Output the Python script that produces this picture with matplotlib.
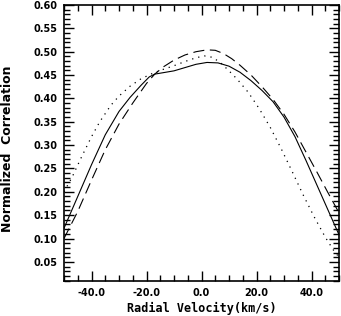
# Cross-correlation profiles, three curves
import numpy as np
import matplotlib
matplotlib.use("Agg")
import matplotlib.pyplot as plt
from matplotlib.ticker import MultipleLocator, FormatStrFormatter

# Solid curve
v_solid = [-50, -45, -40, -35, -30, -26, -22, -19, -17, -14, -10, -6, -2, 2, 6,
           10, 14, 18, 22, 26, 30, 34, 38, 42, 46, 50]
c_solid = [0.122, 0.19, 0.258, 0.322, 0.372, 0.402, 0.428, 0.446, 0.452, 0.455,
           0.459, 0.466, 0.473, 0.477, 0.476, 0.469, 0.456, 0.438, 0.417, 0.393,
           0.36, 0.318, 0.267, 0.214, 0.161, 0.108]

# Dashed curve
v_dash = [-50, -45, -40, -35, -30, -25, -20, -17, -14, -10, -6, -2, 2, 5, 8,
          11, 14, 18, 22, 26, 30, 34, 38, 42, 46, 50]
c_dash = [0.10, 0.158, 0.225, 0.29, 0.345, 0.39, 0.432, 0.452, 0.467, 0.482,
          0.493, 0.50, 0.504, 0.503, 0.496, 0.485, 0.471, 0.45, 0.425, 0.398,
          0.366, 0.328, 0.285, 0.242, 0.198, 0.155]

# Dotted curve
v_dot = [-50, -47, -44, -40, -37, -33, -30, -26, -22, -18, -14, -10, -6, -2, 1,
         4, 7, 10, 13, 17, 21, 25, 29, 33, 37, 41, 45, 48, 50]
c_dot = [0.20, 0.232, 0.27, 0.318, 0.35, 0.385, 0.405, 0.426, 0.442, 0.453,
         0.462, 0.47, 0.479, 0.487, 0.491, 0.488, 0.476, 0.459, 0.441, 0.413,
         0.378, 0.338, 0.292, 0.243, 0.193, 0.146, 0.103, 0.075, 0.06]

plt.rcParams["font.family"] = "DejaVu Sans"
plt.rcParams["font.weight"] = "bold"

fig = plt.figure(figsize=(3.41, 3.16), dpi=100)
ax = fig.add_axes([64 / 341, 1 - 281 / 316, 275 / 341, 276 / 316])

ax.plot(v_solid, c_solid, color="black", linewidth=0.8, linestyle="-")
ax.plot(v_dash, c_dash, color="black", linewidth=0.8, linestyle=(0, (10, 5)))
ax.plot(v_dot, c_dot, color="black", linewidth=0.9, linestyle=(0, (1, 4)))

ax.set_xlim(-50, 50)
ax.set_ylim(0.009, 0.60)

ax.xaxis.set_major_locator(MultipleLocator(20))
ax.xaxis.set_minor_locator(MultipleLocator(5))
ax.yaxis.set_major_locator(MultipleLocator(0.05))
ax.yaxis.set_minor_locator(MultipleLocator(0.01))
ax.xaxis.set_major_formatter(FormatStrFormatter("%.1f"))
ax.yaxis.set_major_formatter(FormatStrFormatter("%.2f"))

ax.tick_params(which="both", direction="in", top=True, right=True,
               labelsize=7, width=1, color="black")
ax.tick_params(which="major", length=7, pad=5)
ax.tick_params(which="minor", length=4)
for lab in ax.get_xticklabels() + ax.get_yticklabels():
    lab.set_fontweight("bold")
for s in ax.spines.values():
    s.set_linewidth(1.2)

ax.set_xlabel("Radial Velocity(km/s)", family="DejaVu Sans Mono",
              fontsize=8.5, fontweight="bold", labelpad=3)
ax.set_ylabel("Normalized  Correlation", fontsize=9, fontweight="bold")
ax.yaxis.set_label_coords(-0.18, 0.478)

fig.savefig("out.png", dpi=100)
